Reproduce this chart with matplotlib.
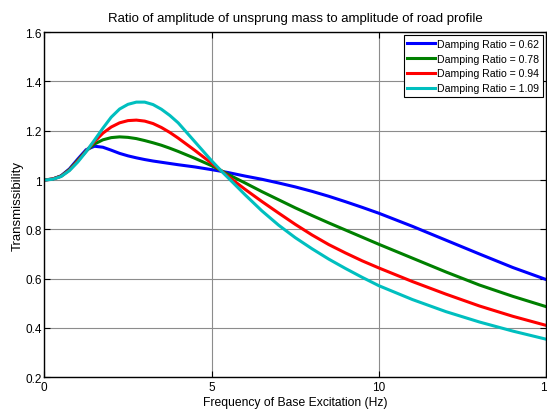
"""Transmissibility of the unsprung mass for several damping ratios."""

import matplotlib
matplotlib.use("Agg")
import matplotlib.pyplot as plt

plt.rcParams["font.family"] = ["Liberation Sans", "DejaVu Sans"]

freq_hz = [0, 0.25, 0.5, 0.75, 1.0, 1.25, 1.5, 1.75, 2.0, 2.25, 2.5, 2.75, 3.0,
           3.25, 3.5, 3.75, 4.0, 4.5, 5.0, 5.3, 5.5, 6.0, 6.5, 7.0, 7.5, 8.0,
           8.5, 9.0, 9.5, 10.0, 11.0, 12.0, 13.0, 14.0, 15.0]

damping_ratios = [0.62, 0.78, 0.94, 1.09]

trans_062 = [1.0, 1.004, 1.017, 1.045, 1.085, 1.123, 1.137, 1.133, 1.121, 1.108,
             1.098, 1.09, 1.083, 1.077, 1.072, 1.067, 1.062, 1.053, 1.042, 1.035,
             1.03, 1.016, 1.003, 0.988, 0.972, 0.954, 0.934, 0.912, 0.889, 0.865,
             0.812, 0.756, 0.7, 0.645, 0.596]
trans_078 = [1.0, 1.004, 1.016, 1.042, 1.08, 1.118, 1.146, 1.163, 1.172, 1.175,
             1.173, 1.168, 1.16, 1.151, 1.141, 1.129, 1.116, 1.088, 1.058, 1.037,
             1.022, 0.988, 0.953, 0.92, 0.887, 0.856, 0.826, 0.797, 0.768, 0.739,
             0.683, 0.627, 0.574, 0.528, 0.486]
trans_094 = [1.0, 1.004, 1.015, 1.04, 1.077, 1.117, 1.156, 1.19, 1.215, 1.232,
             1.241, 1.243, 1.239, 1.229, 1.213, 1.193, 1.17, 1.12, 1.068, 1.036,
             1.014, 0.962, 0.913, 0.866, 0.82, 0.777, 0.738, 0.704, 0.672, 0.643,
             0.588, 0.537, 0.489, 0.447, 0.41]
trans_109 = [1.0, 1.003, 1.014, 1.038, 1.073, 1.115, 1.162, 1.21, 1.255, 1.288,
             1.307, 1.316, 1.316, 1.306, 1.287, 1.262, 1.232, 1.155, 1.078, 1.035,
             1.008, 0.94, 0.875, 0.817, 0.766, 0.721, 0.679, 0.641, 0.605, 0.571,
             0.515, 0.466, 0.424, 0.387, 0.354]

series = [trans_062, trans_078, trans_094, trans_109]
colors = ["#0000ff", "#008000", "#ff0000", "#00bfbf"]

fig = plt.figure(figsize=(5.47, 4.14), dpi=100)
ax = fig.add_axes([0.081, 0.0865, 0.9177, 0.8335])

for zeta, values, color in zip(damping_ratios, series, colors):
    ax.plot(freq_hz, values, color=color, lw=2.2,
            label=f"Damping Ratio = {zeta:.2f}")

ax.set_xlim(0, 15)
ax.set_ylim(0.2, 1.6)
ax.set_xticks([0, 5, 10, 15])
ax.set_yticks([0.2, 0.4, 0.6, 0.8, 1.0, 1.2, 1.4, 1.6])
ax.set_yticklabels(["0.2", "0.4", "0.6", "0.8", "1", "1.2", "1.4", "1.6"])
ax.grid(True, color="#8c8c8c", lw=0.8)
ax.tick_params(direction="in", top=True, right=True, labelsize=8.5,
               length=4, pad=2)
ax.tick_params(axis="x", pad=3)
for spine in ax.spines.values():
    spine.set_linewidth(1.0)

ax.set_title("Ratio of amplitude of unsprung mass to amplitude of road profile",
             fontsize=9.5, pad=8)
ax.set_xlabel("Frequency of Base Excitation (Hz)", fontsize=8.7, labelpad=2)
ax.set_ylabel("Transmissibility", fontsize=9.5, labelpad=1)

leg = ax.legend(loc="upper right", fontsize=7.6, fancybox=False,
                framealpha=1, edgecolor="black", borderaxespad=0.3,
                handlelength=2.6, handletextpad=0.25, labelspacing=0.45,
                borderpad=0.35)
leg.get_frame().set_linewidth(0.8)

fig.savefig("out.png", dpi=100)
